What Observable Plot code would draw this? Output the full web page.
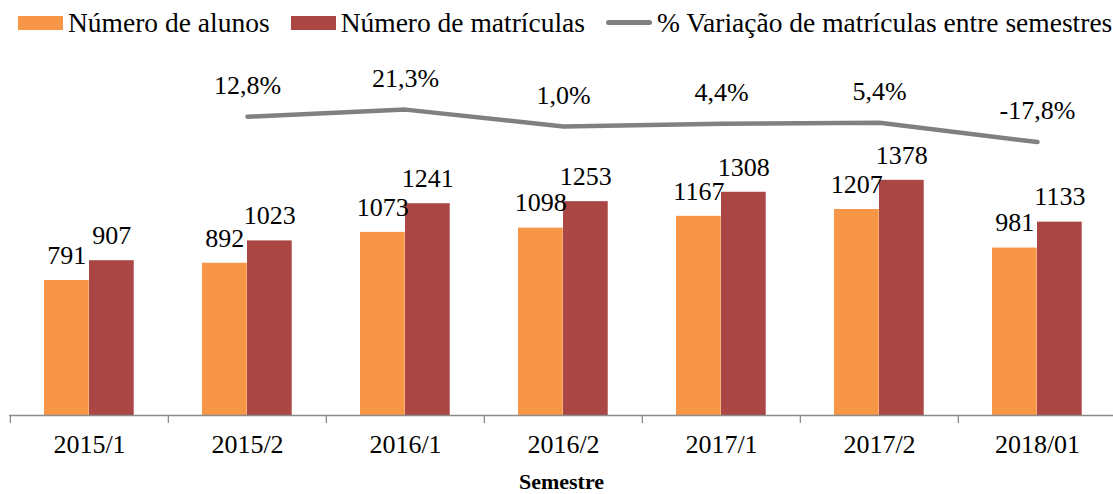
<!DOCTYPE html>
<html>
<head>
<meta charset="utf-8">
<script src="https://cdn.jsdelivr.net/npm/d3@7"></script>
<script src="https://cdn.jsdelivr.net/npm/@observablehq/plot@0.6"></script>
<style>
  html, body { margin: 0; padding: 0; background: #fff; }
  body { width: 1113px; height: 494px; overflow: hidden; font-family: "Liberation Serif", "Times New Roman", serif; }
  #legend { height: 45px; display: flex; align-items: center; padding-left: 18px; font-size: 27.5px; color: #000; white-space: nowrap; }
  .item { display: flex; align-items: center; margin-right: 21px; }
  .sw { width: 45px; height: 14px; margin-right: 5px; }
  .ln { width: 46px; height: 5px; border-radius: 3px; margin-right: 5px; }
  #chart svg { display: block; }
  #chart svg text { font-family: "Liberation Serif", "Times New Roman", serif !important; }
</style>
</head>
<body>
<div id="legend"></div>
<div id="chart"></div>
<script>
const semestres = ["2015/1", "2015/2", "2016/1", "2016/2", "2017/1", "2017/2", "2018/01"];
const alunos = [791, 892, 1073, 1098, 1167, 1207, 981];
const matriculas = [907, 1023, 1241, 1253, 1308, 1378, 1133];
const variacaoSemestres = ["2015/2", "2016/1", "2016/2", "2017/1", "2017/2", "2018/01"];
const variacao = [12.8, 21.3, 1.0, 4.4, 5.4, -17.8];
const seriesNames = ["Número de alunos", "Número de matrículas", "% Variação de matrículas entre semestres"];
const colors = ["#F79646", "#AA4643", "#808080"];

// hidden secondary axis for the percentage line
const yDomain = [0, 2168];
const pctDomain = [-347, 98.5];
const pctToY = d3.scaleLinear().domain(pctDomain).range(yDomain);

const barsA = semestres.map((s, i) => ({sem: s, v: alunos[i]}));
const barsM = semestres.map((s, i) => ({sem: s, v: matriculas[i]}));
const pct = variacaoSemestres.map((s, i) => ({sem: s, p: variacao[i]}));
const fmtPct = p => p.toFixed(1).replace(".", ",") + "%";

// legend
const legend = document.getElementById("legend");
seriesNames.forEach((name, i) => {
  const it = document.createElement("div");
  it.className = "item";
  const sw = document.createElement("div");
  sw.className = i < 2 ? "sw" : "ln";
  sw.style.background = colors[i];
  const t = document.createElement("span");
  t.textContent = name;
  it.appendChild(sw); it.appendChild(t);
  legend.appendChild(it);
});

const xRange = [9, 1117];
const bw = (xRange[1] - xRange[0]) / semestres.length;
const serif = "Liberation Serif, Times New Roman, serif";

const chart = Plot.plot({
  width: 1113,
  height: 449,
  marginTop: 0,
  marginBottom: 79,
  marginLeft: 9,
  marginRight: 0,
  style: {fontFamily: serif, fontSize: "26px", color: "#000", background: "#fff"},
  x: {type: "band", domain: semestres, range: xRange, padding: 0, label: null},
  y: {domain: yDomain, axis: null},
  marks: [
    Plot.barY(barsA, {x: "sem", y: "v", fill: colors[0], insetLeft: 34, insetRight: bw - 79}),
    Plot.barY(barsM, {x: "sem", y: "v", fill: colors[1], insetLeft: 79, insetRight: bw - 124}),
    Plot.ruleY([0], {stroke: "#8C8C8C", strokeWidth: 1.3}),
    Plot.axisX({tickSize: 8, tickFormat: () => "", dx: -bw / 2, stroke: "#8C8C8C", strokeWidth: 1.3, label: null}),
    Plot.axisX({tickSize: 0, tickPadding: 19, fontSize: 26, fontFamily: serif, label: null, fill: "#000"}),
    Plot.text(barsA, {x: "sem", y: "v", text: d => String(d.v), dx: -bw / 2 + 56.5, dy: -25, fontSize: 26, fontFamily: serif, fill: "#000", lineAnchor: "middle"}),
    Plot.text(barsM, {x: "sem", y: "v", text: d => String(d.v), dx: -bw / 2 + 101.5, dy: -25, fontSize: 26, fontFamily: serif, fill: "#000", lineAnchor: "middle"}),
    Plot.line(pct, {x: "sem", y: d => pctToY(d.p), stroke: colors[2], strokeWidth: 4.5, strokeLinecap: "round", strokeLinejoin: "round"}),
    Plot.text(pct, {x: "sem", y: d => pctToY(d.p), text: d => fmtPct(d.p), dy: -31, fontSize: 26, fontFamily: serif, fill: "#000", lineAnchor: "middle"}),
    Plot.text(["Semestre"], {text: d => d, frameAnchor: "bottom", dy: 66, fontSize: 22, fontFamily: serif, fontWeight: "bold", fill: "#000", lineAnchor: "middle"})
  ]
});
document.getElementById("chart").appendChild(chart);
</script>
</body>
</html>
